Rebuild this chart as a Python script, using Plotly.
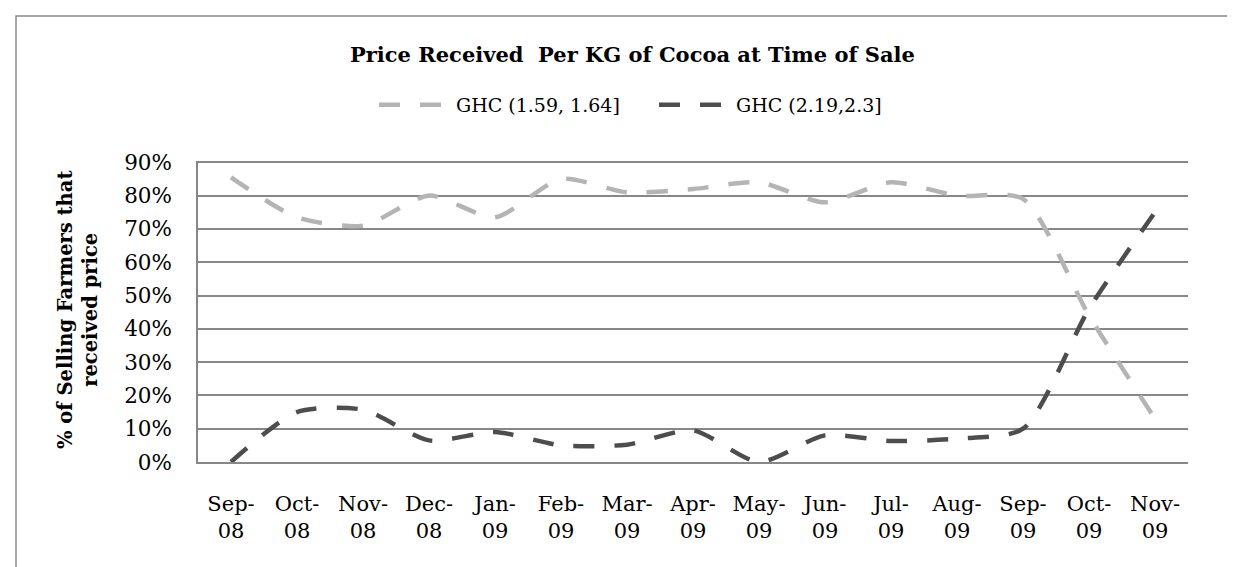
import plotly.graph_objects as go

months = ["Sep-08", "Oct-08", "Nov-08", "Dec-08", "Jan-09", "Feb-09", "Mar-09", "Apr-09",
          "May-09", "Jun-09", "Jul-09", "Aug-09", "Sep-09", "Oct-09", "Nov-09"]
tick_text = [m.replace("-", "-<br>") for m in months]

low_price = [0.855, 0.735, 0.71, 0.80, 0.735, 0.85, 0.81, 0.82, 0.84, 0.78, 0.84, 0.80, 0.79, 0.44, 0.13]
high_price = [0.0, 0.15, 0.157, 0.065, 0.09, 0.05, 0.052, 0.095, 0.0, 0.08, 0.063, 0.07, 0.10, 0.46, 0.75]

series_names = ["GHC (1.59, 1.64]", "GHC (2.19,2.3]"]
series_colors = ["#b4b4b4", "#4d4d4d"]

FONT = "DejaVu Serif"
W, H = 1235, 567
ML, MR, MT, MB = 190, 55, 153, 113
PW = W - ML - MR
PH = H - MT - MB


def px_to_paper_x(px):
    return (px - ML) / PW


def py_to_paper_y(py):
    return (H - MB - py) / PH


fig = go.Figure()
for name, vals, col in zip(series_names, [low_price, high_price], series_colors):
    fig.add_trace(go.Scatter(
        x=months, y=vals, name=name, mode="lines",
        line=dict(color=col, width=4.5, dash="21px,20px", shape="spline", smoothing=0.7),
        hoverinfo="x+y",
    ))

fig.update_layout(
    width=W, height=H,
    margin=dict(l=ML, r=MR, t=MT, b=MB),
    paper_bgcolor="white", plot_bgcolor="white",
    font=dict(family=FONT, color="black"),
    showlegend=True,
    legend=dict(orientation="h", x=px_to_paper_x(366), xanchor="left",
                y=py_to_paper_y(97), yanchor="middle",
                font=dict(family=FONT, size=19, color="black"),
                bgcolor="rgba(0,0,0,0)", itemwidth=72, entrywidth=193,
                entrywidthmode="pixels", tracegroupgap=0),
    xaxis=dict(
        type="category", categoryorder="array", categoryarray=months,
        tickmode="array", tickvals=months, ticktext=tick_text,
        showline=True, linecolor="#878787", linewidth=1.5,
        showgrid=False, ticks="", ticklabelstandoff=22,
        tickfont=dict(family=FONT, size=21, color="black"),
        range=[-0.5, len(months) - 0.5], fixedrange=True,
    ),
    yaxis=dict(
        range=[0, 0.904], dtick=0.1, tickformat=".0%",
        showline=True, linecolor="#878787", linewidth=1.5,
        showgrid=True, gridcolor="#878787", gridwidth=1.5,
        zeroline=False, ticks="", ticklabelstandoff=20,
        tickfont=dict(family=FONT, size=21.5, color="black"),
    ),
    annotations=[
        dict(text="<b>Price Received  Per KG of Cocoa at Time of Sale</b>",
             xref="paper", yref="paper", x=px_to_paper_x(624), y=py_to_paper_y(47),
             xanchor="center", yanchor="middle", showarrow=False,
             font=dict(family=FONT, size=21, color="black")),
        dict(text="<b>% of Selling Farmers that<br>received price</b>",
             xref="paper", yref="paper", x=px_to_paper_x(70), y=py_to_paper_y(302),
             xanchor="center", yanchor="middle", showarrow=False, textangle=-90,
             font=dict(family=FONT, size=19.5, color="black")),
    ],
    shapes=[
        dict(type="rect", xref="paper", yref="paper",
             x0=px_to_paper_x(8), x1=px_to_paper_x(1245),
             y0=py_to_paper_y(580), y1=py_to_paper_y(8),
             line=dict(color="#8a8a8a", width=1.5), fillcolor="rgba(0,0,0,0)", layer="below"),
    ],
)

fig.write_html("out.html")
